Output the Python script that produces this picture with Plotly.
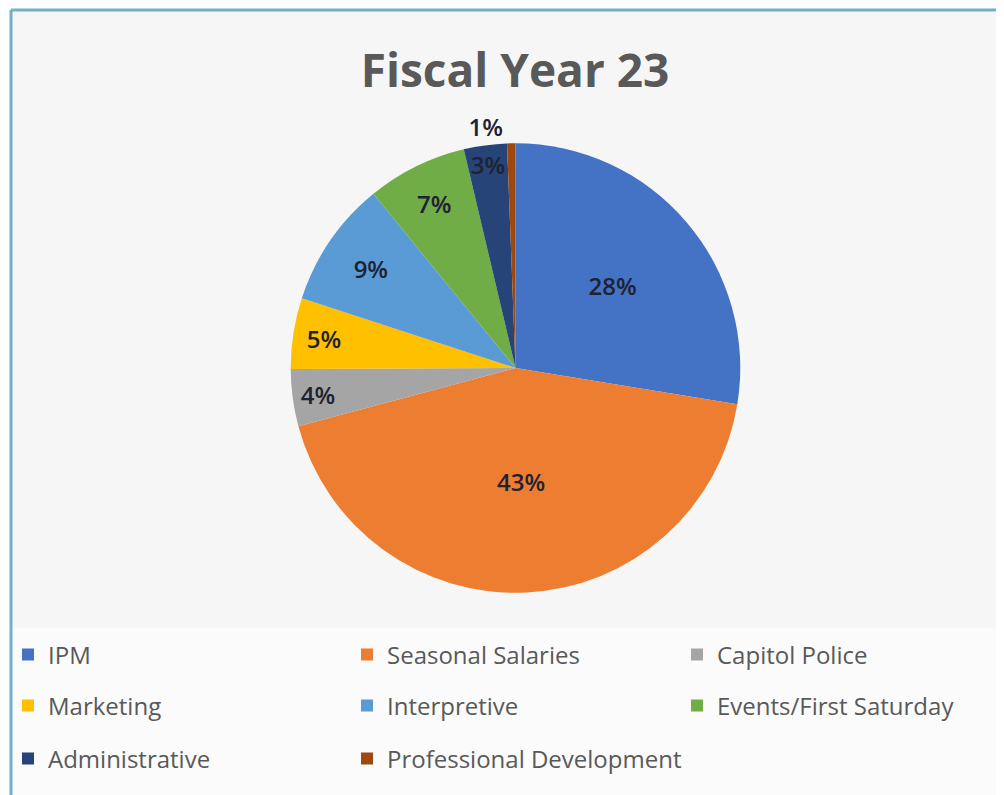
import plotly.graph_objects as go

title = "Fiscal Year 23"
categories = ["IPM", "Seasonal Salaries", "Capitol Police", "Marketing",
              "Interpretive", "Events/First Saturday", "Administrative",
              "Professional Development"]
values = [27.6, 43.3, 4.1, 5.1, 9.1, 7.2, 3.1, 0.6]
colors = ["#4472C4", "#ED7D31", "#A5A5A5", "#FFC000",
          "#5B9BD5", "#70AD47", "#264478", "#9E480E"]

# page body has an 8px margin; figure sized to fit the 1004x795 window
OFF = 8
W, H = 1004 - OFF, 795 - OFF
cx, cy, r = 515, 368, 225

# legend grid (3 columns, rows wrap)
col_x = [7, 347, 677]
row_y = [655, 706, 759]


def px(x):
    return (x - OFF) / W


def py(y):
    return 1 - (y - OFF) / H


# the sliver slice's label goes just outside so it does not collide with its neighbour
positions = ["inside"] * len(values)
positions[-1] = "outside"

fig = go.Figure()
fig.add_trace(go.Pie(
    labels=categories, values=values, sort=False, direction="clockwise",
    rotation=0, marker=dict(colors=colors, line=dict(width=0)),
    texttemplate="%{percent:.0%}", textposition=positions,
    insidetextorientation="horizontal",
    textfont=dict(family="Open Sans", size=24, color="#1e2233", weight=600),
    domain=dict(x=[px(cx - r), px(cx + r)], y=[py(cy + r), py(cy - r)]),
    showlegend=False, hoverinfo="label+percent",
))

legend_layout = {}
for i, (name, col) in enumerate(zip(categories, colors)):
    key = "legend" if i == 0 else f"legend{i + 1}"
    fig.add_trace(go.Scatter(
        x=[None], y=[None], mode="markers", name=name,
        marker=dict(symbol="square", size=12, color=col),
        legend=key, showlegend=True,
    ))
    legend_layout[key] = dict(
        orientation="h", x=px(col_x[i % 3]), xanchor="left",
        y=py(row_y[i // 3]), yanchor="middle",
        bgcolor="rgba(0,0,0,0)",
        font=dict(family="Open Sans", size=24, color="#595959"),
    )

fig.update_layout(
    width=W, height=H,
    margin=dict(l=0, r=0, t=0, b=0),
    paper_bgcolor="white", plot_bgcolor="rgba(0,0,0,0)",
    xaxis=dict(visible=False), yaxis=dict(visible=False),
    title=dict(text=title, x=px(515), xanchor="center", y=py(71), yanchor="middle",
               font=dict(family="Open Sans", size=46, color="#595959", weight=700)),
    uniformtext=dict(minsize=24, mode="show"),
    shapes=[
        dict(type="rect", xref="paper", yref="paper", x0=px(10), x1=1, y0=0, y1=py(10),
             fillcolor="#f6f6f6", line=dict(width=0), layer="below"),
        dict(type="rect", xref="paper", yref="paper", x0=px(10), x1=1, y0=0, y1=py(628),
             fillcolor="#fbfbfb", line=dict(width=0), layer="below"),
        dict(type="line", xref="paper", yref="paper", x0=px(10), x1=1, y0=py(10), y1=py(10),
             line=dict(color="#74aec9", width=3), layer="above"),
        dict(type="line", xref="paper", yref="paper", x0=px(10), x1=px(10), y0=0, y1=py(10),
             line=dict(color="#74aec9", width=3), layer="above"),
    ],
    **legend_layout,
)

fig.write_html("out.html")
